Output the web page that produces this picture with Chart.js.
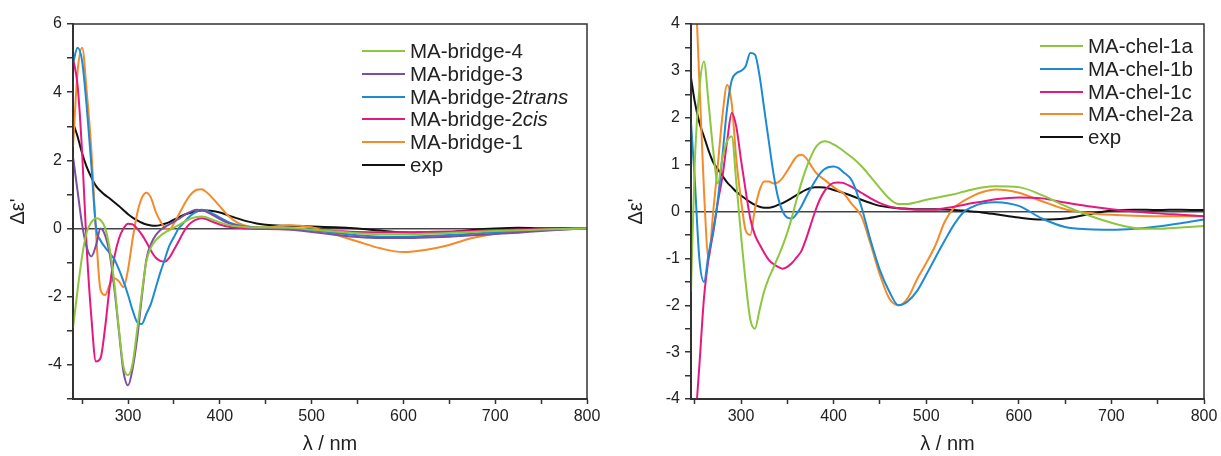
<!DOCTYPE html>
<html>
<head>
<meta charset="utf-8">
<script src="https://cdn.jsdelivr.net/npm/chart.js@4.4.1/dist/chart.umd.min.js"></script>
<style>
  body { margin: 0; background: #fff; width: 1221px; height: 456px; overflow: hidden; position: relative;
         font-family: "Liberation Sans", Arial, sans-serif; }
  .box { position: absolute; top: 0; height: 456px; }
  .legend { position: absolute; font-size: 20.5px; color: #222; }
  .legend .row { display: flex; align-items: center; white-space: nowrap; height: 22.7px; }
  .legend .sw { display: inline-block; width: 43px; height: 0; border-top: 2.5px solid; margin-right: 5px; }
</style>
</head>
<body>
<div class="box" style="left:0;width:605px"><canvas id="left"></canvas></div>
<div class="box" style="left:618px;width:603px"><canvas id="right"></canvas></div>
<div class="legend" id="legLeft" style="left:362px;top:40px"></div>
<div class="legend" id="legRight" style="left:1040px;top:35px"></div>
<script>
// ---- left panel: MA-bridge ----
const LEFT_WL = [240,245,250,255,260,265,270,275,280,285,
                 290,295,300,305,310,315,320,325,330,335,
                 340,345,350,355,360,365,370,375,380,385,
                 390,400,410,420,430,440,450,475,500,525,
                 550,575,600,625,650,675,700,725,750,775,
                 800];
const LEFT_NAMES = ['MA-bridge-4', 'MA-bridge-3', 'MA-bridge-2', 'MA-bridge-2', 'MA-bridge-1', 'exp'];
const LEFT_ITALIC = ['', '', 'trans', 'cis', '', ''];
const bridge4 = [-2.92,-1.8,-0.8,-0.1,0.18,0.3,0.25,0.02,-0.6,-1.6,
                 -2.95,-4.05,-4.3,-3.95,-2.95,-1.9,-0.95,-0.55,-0.35,-0.22,
                 -0.12,-0.05,0.03,0.1,0.18,0.25,0.31,0.34,0.35,0.33,
                 0.28,0.18,0.1,0.06,0.04,0.03,0.03,0.02,-0.03,-0.09,
                 -0.14,-0.17,-0.17,-0.15,-0.13,-0.1,-0.07,-0.05,-0.03,-0.01,
                 0];
const bridge3 = [2.1,1.1,0.1,-0.55,-0.82,-0.5,0.0,-0.2,-0.75,-1.75,
                 -3.0,-4.2,-4.6,-4.1,-3.2,-2.0,-0.9,-0.45,-0.2,-0.05,
                 0.05,0.12,0.2,0.28,0.37,0.45,0.52,0.55,0.54,0.5,
                 0.43,0.28,0.15,0.08,0.04,0.02,0.01,-0.03,-0.1,-0.18,
                 -0.25,-0.28,-0.28,-0.26,-0.24,-0.2,-0.16,-0.12,-0.07,-0.03,
                 0];
const bridge2trans = [4.85,5.3,4.9,3.55,1.85,0.05,-0.35,-0.55,-0.72,-0.9,
                 -1.2,-1.55,-1.95,-2.4,-2.75,-2.8,-2.5,-2.2,-1.75,-1.3,
                 -0.9,-0.5,-0.25,0.0,0.15,0.3,0.42,0.5,0.55,0.53,
                 0.47,0.32,0.18,0.1,0.05,0.03,0.02,0.0,-0.05,-0.12,
                 -0.2,-0.24,-0.24,-0.22,-0.19,-0.15,-0.11,-0.08,-0.05,-0.02,
                 0];
const bridge2cis = [5.0,4.2,2.2,-0.6,-2.6,-3.9,-3.8,-2.9,-1.7,-0.85,
                 -0.3,0.0,0.14,0.12,0.0,-0.18,-0.4,-0.65,-0.85,-0.95,
                 -0.97,-0.85,-0.62,-0.38,-0.12,0.08,0.2,0.27,0.3,0.28,
                 0.22,0.12,0.05,0.02,0.0,-0.01,-0.01,-0.02,-0.04,-0.07,
                 -0.1,-0.11,-0.11,-0.1,-0.09,-0.07,-0.05,-0.03,-0.02,-0.01,
                 0];
const bridge1 = [2.4,4.6,5.3,4.0,2.3,-0.1,-1.8,-1.95,-1.65,-1.46,
                 -1.55,-1.72,-1.2,-0.3,0.45,0.9,1.05,0.9,0.5,0.22,
                 0.03,-0.03,0.15,0.4,0.65,0.88,1.05,1.14,1.15,1.08,
                 0.95,0.65,0.35,0.16,0.07,0.04,0.04,0.1,0.04,-0.17,
                 -0.38,-0.58,-0.69,-0.62,-0.48,-0.28,-0.15,-0.09,-0.04,-0.02,
                 0];
const expLeft = [3.1,2.7,2.2,1.8,1.5,1.25,1.1,0.98,0.88,0.77,
                 0.66,0.54,0.42,0.32,0.24,0.17,0.12,0.09,0.08,0.1,
                 0.14,0.19,0.26,0.33,0.39,0.44,0.48,0.51,0.53,0.53,
                 0.52,0.47,0.38,0.29,0.21,0.15,0.11,0.08,0.06,0.04,
                 0.0,-0.06,-0.11,-0.13,-0.1,-0.04,0.0,0.02,0.01,0.01,
                 0];
const LEFT_X_TICKS = [250,300,350,400,450,500,550,600,650,700,750,800];
const LEFT_Y_TICKS = [-5,-4,-3,-2,-1,0,1,2,3,4,5,6];

// ---- right panel: MA-chel ----
const RIGHT_WL = [246,250,255,260,265,270,275,280,285,290,
                  295,300,305,310,315,320,325,330,335,340,
                  345,350,355,360,365,370,375,380,385,390,
                  395,400,405,410,420,430,440,450,460,470,
                  480,490,500,510,520,530,540,550,560,575,
                  600,625,650,675,700,725,750,775,800];
const RIGHT_NAMES = ['MA-chel-1a', 'MA-chel-1b', 'MA-chel-1c', 'MA-chel-2a', 'exp'];
const RIGHT_ITALIC = ['', '', '', '', ''];
const chel1a = [-1.7,1.0,2.6,3.2,2.3,1.3,0.6,1.15,1.5,1.6,
                0.6,-0.5,-1.5,-2.3,-2.5,-2.1,-1.7,-1.42,-1.2,-0.97,
                -0.73,-0.45,-0.12,0.25,0.6,0.9,1.15,1.35,1.46,1.5,
                1.48,1.43,1.37,1.3,1.15,0.97,0.74,0.5,0.28,0.16,
                0.16,0.2,0.25,0.29,0.33,0.37,0.42,0.47,0.51,0.54,
                0.52,0.35,0.12,-0.08,-0.24,-0.35,-0.37,-0.34,-0.31];
const chel1b = [1.9,0.7,-1.0,-1.5,-0.9,-0.4,0.25,1.2,2.2,2.8,
                2.95,3.0,3.1,3.38,3.35,2.9,2.2,1.5,0.82,0.3,
                0.0,-0.13,-0.15,-0.05,0.1,0.3,0.48,0.65,0.8,0.9,
                0.95,0.96,0.93,0.85,0.65,0.1,-0.62,-1.25,-1.7,-2.0,
                -1.92,-1.7,-1.35,-0.98,-0.62,-0.28,-0.02,0.1,0.17,0.2,
                0.12,-0.15,-0.33,-0.38,-0.39,-0.37,-0.32,-0.25,-0.17];
const chel1c = [-6.0,-4.7,-3.3,-1.85,-1.0,-0.45,0.2,0.75,1.5,2.1,
                1.8,1.1,0.45,-0.15,-0.5,-0.7,-0.88,-1.03,-1.12,-1.18,
                -1.22,-1.18,-1.1,-0.98,-0.85,-0.6,-0.3,0.0,0.25,0.43,
                0.55,0.61,0.62,0.61,0.52,0.4,0.28,0.18,0.11,0.07,
                0.05,0.04,0.04,0.04,0.07,0.1,0.14,0.18,0.21,0.26,
                0.3,0.28,0.19,0.11,0.05,0.0,-0.04,-0.07,-0.1];
const chel2a = [7.0,5.2,2.8,0.45,-1.0,0.0,1.0,2.05,2.7,2.3,
                1.1,0.25,-0.4,-0.5,0.05,0.45,0.64,0.64,0.6,0.62,
                0.72,0.87,1.03,1.17,1.21,1.15,1.0,0.85,0.75,0.68,
                0.6,0.52,0.45,0.4,0.15,-0.1,-0.7,-1.35,-1.85,-2.0,
                -1.85,-1.45,-1.1,-0.72,-0.22,0.08,0.22,0.33,0.41,0.47,
                0.4,0.22,0.05,-0.03,-0.07,-0.09,-0.1,-0.1,-0.1];
const expRight = [2.85,2.35,1.9,1.6,1.3,1.05,0.9,0.76,0.62,0.52,
                  0.42,0.34,0.27,0.2,0.14,0.1,0.08,0.08,0.1,0.14,
                  0.18,0.23,0.29,0.35,0.41,0.46,0.5,0.52,0.52,0.51,
                  0.49,0.46,0.43,0.4,0.33,0.25,0.18,0.12,0.09,0.07,
                  0.06,0.05,0.05,0.05,0.04,0.03,0.02,0.0,-0.02,-0.06,
                  -0.13,-0.17,-0.15,-0.06,0.02,0.04,0.03,0.04,0.03];
const RIGHT_X_TICKS = [250,300,350,400,450,500,550,600,650,700,750,800];
const RIGHT_Y_TICKS = [-4,-3.5,-3,-2.5,-2,-1.5,-1,-0.5,0,0.5,1,1.5,2,2.5,3,3.5,4];

const FONT = '"Liberation Sans", Arial, sans-serif';
const COLORS = {
  green: '#8dc63f', purple: '#7e4f9f', blue: '#1d8bd1',
  pink: '#e5187f', orange: '#f58a2a', black: '#111111'
};

// box around the plot area (top and right edges)
const framePlugin = {
  id: 'frame',
  afterDatasetsDraw(chart) {
    const { ctx, chartArea: a } = chart;
    ctx.save();
    ctx.strokeStyle = '#333';
    ctx.lineWidth = 1.5;
    ctx.strokeRect(a.left, a.top, a.right - a.left, a.bottom - a.top);
    ctx.restore();
  }
};

function makeChart(id, wl, series, cfg) {
  const datasets = series.map(s => ({
    label: s.name + s.italic,
    data: wl.map((x, i) => ({ x: x, y: s.values[i] })),
    borderColor: s.color,
    borderWidth: 2,
    pointRadius: 0,
    fill: false,
    cubicInterpolationMode: 'monotone'
  }));

  return new Chart(document.getElementById(id), {
    type: 'line',
    data: { datasets: datasets },
    options: {
      responsive: true,
      maintainAspectRatio: false,
      animation: false,
      layout: { padding: { left: 0, top: 24, right: cfg.padRight, bottom: 0 } },
      plugins: { legend: { display: false }, tooltip: { enabled: false } },
      scales: {
        x: {
          type: 'linear',
          min: cfg.xMin,
          max: 800,
          afterBuildTicks: sc => { sc.ticks = cfg.xTicks.map(v => ({ value: v })); },
          afterFit: sc => { sc.height = 57; },
          ticks: {
            autoSkip: false, maxRotation: 0, padding: 3, color: '#222',
            font: { size: 16, family: FONT },
            callback: v => (v % 100 === 0 ? String(v) : '')
          },
          grid: { drawOnChartArea: false, tickLength: 5, tickColor: '#333', tickWidth: 1.5 },
          border: { color: '#333', width: 2 },
          title: {
            display: true, text: 'λ / nm', color: '#222',
            font: { size: 20, family: FONT }, padding: { top: 0, bottom: 0 }
          }
        },
        y: {
          type: 'linear',
          min: cfg.yMin,
          max: cfg.yMax,
          afterBuildTicks: sc => { sc.ticks = cfg.yTicks.map(v => ({ value: v })); },
          afterFit: sc => { sc.width = cfg.yWidth; },
          ticks: {
            padding: 5, color: '#222',
            font: { size: 16, family: FONT },
            callback: v => (v % cfg.yLabelStep === 0 ? String(v) : '')
          },
          grid: {
            drawOnChartArea: true,
            color: c => (c.tick && c.tick.value === 0 ? '#444' : 'rgba(0,0,0,0)'),
            lineWidth: 1.5,
            tickLength: 6, tickColor: '#333', tickWidth: 1.5
          },
          border: { color: '#333', width: 2 },
          title: {
            display: true, text: "Δε'", color: '#222',
            font: { size: 20, family: FONT }, padding: { top: 6, bottom: 0 }
          }
        }
      }
    },
    plugins: [framePlugin]
  });
}

function buildLegend(elId, series) {
  const el = document.getElementById(elId);
  series.forEach(s => {
    const row = document.createElement('div');
    row.className = 'row';
    row.innerHTML = `<span class="sw" style="border-color:${s.color}"></span>` +
      `<span>${s.name}${s.italic ? `<i>${s.italic}</i>` : ''}</span>`;
    el.appendChild(row);
  });
}

const leftSeries = [
  { values: bridge4, color: COLORS.green },
  { values: bridge3, color: COLORS.purple },
  { values: bridge2trans, color: COLORS.blue },
  { values: bridge2cis, color: COLORS.pink },
  { values: bridge1, color: COLORS.orange },
  { values: expLeft, color: COLORS.black }
].map((s, i) => ({ ...s, name: LEFT_NAMES[i], italic: LEFT_ITALIC[i] }));

const rightSeries = [
  { values: chel1a, color: COLORS.green },
  { values: chel1b, color: COLORS.blue },
  { values: chel1c, color: COLORS.pink },
  { values: chel2a, color: COLORS.orange },
  { values: expRight, color: COLORS.black }
].map((s, i) => ({ ...s, name: RIGHT_NAMES[i], italic: RIGHT_ITALIC[i] }));

makeChart('left', LEFT_WL, leftSeries, {
  xMin: 240, xTicks: LEFT_X_TICKS, yMin: -5, yMax: 6, yTicks: LEFT_Y_TICKS,
  yLabelStep: 2, yWidth: 73, padRight: 18
});
makeChart('right', RIGHT_WL, rightSeries, {
  xMin: 246, xTicks: RIGHT_X_TICKS, yMin: -4, yMax: 4, yTicks: RIGHT_Y_TICKS,
  yLabelStep: 1, yWidth: 73, padRight: 17
});

buildLegend('legLeft', leftSeries);
buildLegend('legRight', rightSeries);
</script>
</body>
</html>
